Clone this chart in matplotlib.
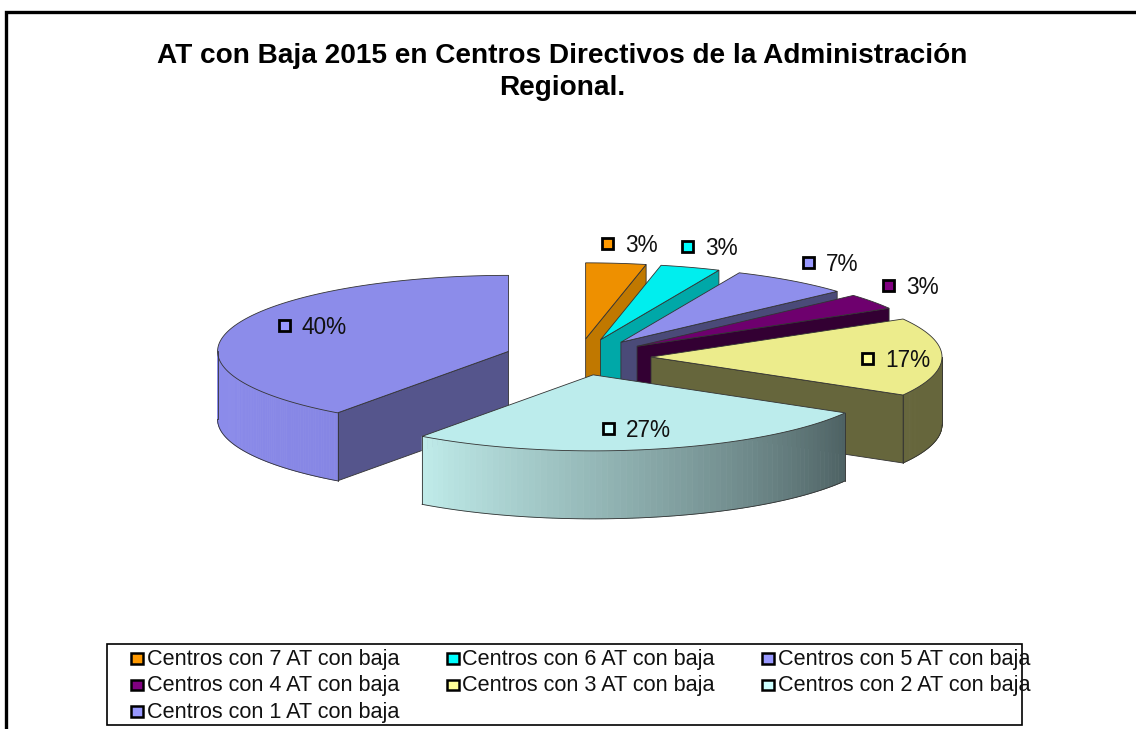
import numpy as np
import matplotlib
matplotlib.use("Agg")
import matplotlib.pyplot as plt
from matplotlib.patches import Polygon, Rectangle

plt.rcParams['font.family'] = ['Liberation Sans', 'DejaVu Sans']

title = "AT con Baja 2015 en Centros Directivos de la Administración\nRegional."
categories = ["Centros con 7 AT con baja", "Centros con 6 AT con baja", "Centros con 5 AT con baja",
              "Centros con 4 AT con baja", "Centros con 3 AT con baja", "Centros con 2 AT con baja",
              "Centros con 1 AT con baja"]
# number of centres per group (shown as 3,3,7,3,17,27,40 %)
counts = [1, 1, 2, 1, 5, 8, 12]
top_colors = ["#EE9000", "#00EEEE", "#8F8FEC", "#6E006E", "#ECEC8C", "#BCECEC", "#8C8CEA"]
cut_colors = ["#C07800", "#00A8A8", "#4A4A78", "#330033", "#66663C", "#5A7A7A", "#55558C"]
wall_start = ["#C07800", "#00A8A8", "#4A4A78", "#330033", "#66663C", "#4E6264", "#8686E4"]
wall_end = ["#C07800", "#00A8A8", "#4A4A78", "#330033", "#66663C", "#BFEBE9", "#8C8CEC"]
key_colors = ["#FF9900", "#00FFFF", "#9999FF", "#800080", "#FFFF99", "#CCFFFF", "#9999FF"]
label_x = [607, 687, 808, 888, 867, 608, 284]
label_y = [243, 246, 262, 285, 358, 428, 325]

cx, cy = 578, 357
rx, ry = 291, 76
depth = 68
explode = 73

fig = plt.figure(figsize=(11.36, 7.29), dpi=100)
ax = fig.add_axes([0, 0, 1, 1])
ax.set_xlim(0, 1136)
ax.set_ylim(729, 0)
ax.axis("off")


def rim(ax0, ay0, deg):
    t = np.radians(deg)
    return ax0 + rx * np.sin(t), ay0 - ry * np.cos(t)


def draw_slice(i, a, b):
    mid = np.radians((a + b) / 2)
    x0 = cx + explode * np.sin(mid)
    y0 = cy - explode * 0.25 * np.cos(mid)
    ang = np.linspace(a, b, 120)
    xs, ys = rim(x0, y0, ang)
    edge = dict(edgecolor="#333333", linewidth=0.6)

    # cut faces that look at the viewer
    if 0 < a < 360 and np.sin(np.radians(a)) < 0:
        xe, ye = rim(x0, y0, a)
        ax.add_patch(Polygon([(x0, y0), (xe, ye), (xe, ye + depth), (x0, y0 + depth)],
                             facecolor=cut_colors[i], **edge))
    if np.sin(np.radians(b)) > 0:
        xe, ye = rim(x0, y0, b)
        ax.add_patch(Polygon([(x0, y0), (xe, ye), (xe, ye + depth), (x0, y0 + depth)],
                             facecolor=cut_colors[i], **edge))

    # outer wall, front half only, shaded strip by strip
    w0, w1 = max(a, 90), min(b, 270)
    if w1 > w0:
        wa = np.linspace(w0, w1, 80)
        wx, wy = rim(x0, y0, wa)
        c0 = np.array(matplotlib.colors.to_rgb(wall_start[i]))
        c1 = np.array(matplotlib.colors.to_rgb(wall_end[i]))
        for k in range(len(wa) - 1):
            f = k / (len(wa) - 2)
            col = c0 + (c1 - c0) * f
            ax.add_patch(Polygon([(wx[k], wy[k]), (wx[k + 1], wy[k + 1]),
                                  (wx[k + 1], wy[k + 1] + depth), (wx[k], wy[k] + depth)],
                                 facecolor=col, edgecolor=col, linewidth=0.5))
        ax.plot(wx, wy + depth, color="#333333", lw=0.6)
        ax.plot([wx[0], wx[0]], [wy[0], wy[0] + depth], color="#333333", lw=0.6)
        ax.plot([wx[-1], wx[-1]], [wy[-1], wy[-1] + depth], color="#333333", lw=0.6)

    # top face
    pts = [(x0, y0)] + list(zip(xs, ys))
    ax.add_patch(Polygon(pts, facecolor=top_colors[i], **edge))


ends = np.cumsum(counts) / sum(counts) * 360
starts = np.concatenate([[0], ends[:-1]])
for i in [6, 0, 1, 2, 3, 4, 5]:
    draw_slice(i, starts[i], ends[i])

# value labels with their little colour keys
for i in range(len(counts)):
    pct = round(counts[i] / sum(counts) * 100)
    ax.add_patch(Rectangle((label_x[i] - 5.5, label_y[i] - 5.5), 11, 11, facecolor=key_colors[i],
                           edgecolor="black", linewidth=2, zorder=5))
    ax.text(label_x[i] + 18, label_y[i] + 2, f"{pct}%", fontsize=16.3, va="center", ha="left",
            color="#111111", zorder=5)

ax.text(562, 72, title, fontsize=20.2, fontweight="bold", ha="center", va="center",
        linespacing=1.33, color="black")

# outer frame: top and left only reach the picture edges
ax.plot([6, 6, 1136], [729, 12, 12], color="black", lw=2.4, solid_joinstyle="miter")

# legend box
ax.add_patch(Rectangle((107, 644), 915, 81, facecolor="white", edgecolor="black", linewidth=1.2))
for i, name in enumerate(categories):
    col = i % 3
    row = i // 3
    kx = 131 + col * 315.5
    ky = 653 + row * 26.5
    ax.add_patch(Rectangle((kx, ky), 12, 10.5, facecolor=key_colors[i], edgecolor="black", linewidth=1.8))
    ax.text(kx + 16, ky + 6.5, name, fontsize=15.6, va="center", ha="left", color="#111111")

fig.savefig("out.png", dpi=100)
